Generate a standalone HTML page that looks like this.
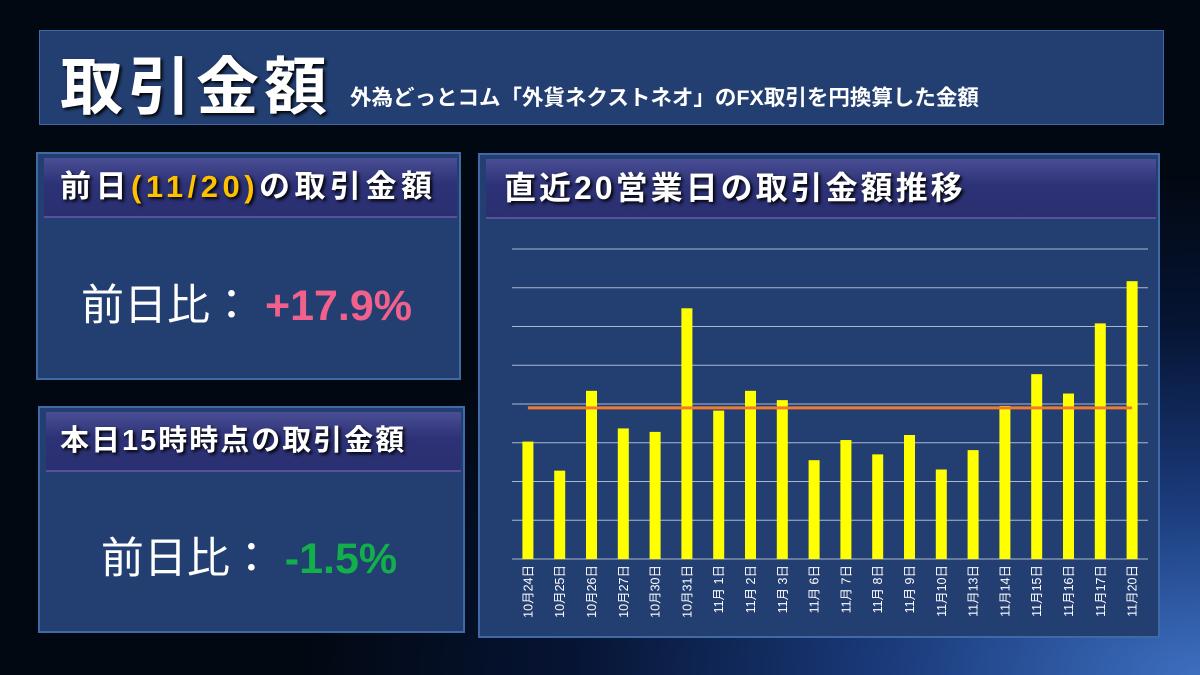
<!DOCTYPE html>
<html><head><meta charset="utf-8"><style>
*{margin:0;padding:0;box-sizing:border-box}
body{width:1200px;height:675px;overflow:hidden;position:relative;font-family:"Liberation Sans","Noto Sans CJK JP",sans-serif;color:#fff;
background:radial-gradient(ellipse 900px 500px at 1200px 675px,#3d6fc0 0%,#1a3a7a 35%,#061433 70%,#020812 100%);}
.box{position:absolute;background:#233f72;border:2px solid #3f6aa6;}
.hd{position:absolute;left:6px;right:2px;top:4px;height:60px;background:linear-gradient(#4a4f95,#2d3277 45%,#2a2f70);border-bottom:2px solid #5a4f9a;font-weight:bold;font-size:29px;letter-spacing:2px;text-shadow:2px 2px 3px #000;padding-left:16px;line-height:58px;white-space:nowrap}
.val{position:absolute;left:0;right:0;text-align:center;font-size:43px;white-space:nowrap}
</style></head><body>
<div class="box" style="left:39px;top:30px;width:1125px;height:95px;border-width:1px">
 <span style="position:absolute;left:20px;top:6px;font-size:63px;letter-spacing:5px;font-weight:bold;text-shadow:2px 2px 3px #000">取引金額</span>
 <span style="position:absolute;left:310px;top:50px;font-size:21.5px;font-weight:bold">外為どっとコム「外貨ネクストネオ」のFX取引を円換算した金額</span>
</div>
<div class="box" style="left:36px;top:152px;width:425px;height:228px">
 <div class="hd" style="padding-left:16px;font-size:31px;letter-spacing:4.5px">前日<span style="color:#ffc000">(11/20)</span>の取引金額</div>
 <div class="val" style="top:117px;left:-4px">前日比： <b style="color:#f2608c">+17.9%</b></div>
</div>
<div class="box" style="left:38px;top:406px;width:427px;height:227px">
 <div class="hd" style="padding-left:14px">本日15時時点の取引金額</div>
 <div class="val" style="top:116px;left:-5px">前日比： <b style="color:#12b04a">-1.5%</b></div>
</div>
<div class="box" style="left:478px;top:153px;width:682px;height:485px">
 <div class="hd" style="font-size:32px;letter-spacing:3px;padding-left:18px">直近20営業日の取引金額推移</div>
</div>
<svg id="chart" width="1200" height="675" style="position:absolute;left:0;top:0"></svg>
<script>
const categories=["10月24日","10月25日","10月26日","10月27日","10月30日","10月31日","11月 1日","11月 2日","11月 3日","11月 6日","11月 7日","11月 8日","11月 9日","11月10日","11月13日","11月14日","11月15日","11月16日","11月17日","11月20日"];
const values=[3.03,2.28,4.34,3.37,3.28,6.47,3.83,4.34,4.10,2.55,3.07,2.70,3.20,2.31,2.81,3.95,4.77,4.27,6.08,7.17];
const averageValue=[3.90];
const yTicks=[0,1,2,3,4,5,6,7,8];
const svg=document.getElementById('chart');
const NS='http://www.w3.org/2000/svg';
const x0=512,x1=1148,yb=559,yt=249,yMax=8;
const y=v=>yb-(v/yMax)*(yb-yt);
const step=(x1-x0)/categories.length;
const xc=i=>x0+step*(i+0.5);
function mk(t,a){const e=document.createElementNS(NS,t);for(const k in a)e.setAttribute(k,a[k]);svg.appendChild(e);return e;}
yTicks.forEach(t=>{
 const l=mk('line',{x1:x0,x2:x1,y1:y(t),y2:y(t),stroke:'#a9b8d0','stroke-width':1});
 
 
});
values.forEach((v,i)=>{
 const r=mk('rect',{x:xc(i)-5.5,y:y(v),width:11,height:yb-y(v),fill:'#ffff00'});
 
 
 const tx=xc(i)+4.5, ty=565;
 const t=mk('text',{x:tx,y:ty,transform:`rotate(-90 ${tx} ${ty})`,'text-anchor':'end',fill:'#fff','font-size':12.5,'font-family':'"Liberation Sans","Noto Sans CJK JP",sans-serif'});
 t.textContent=categories[i];
 
 
});
const al=mk('line',{x1:xc(0),x2:xc(categories.length-1),y1:y(averageValue[0]),y2:y(averageValue[0]),stroke:'#f07a30','stroke-width':3});


</script>
</body></html>
